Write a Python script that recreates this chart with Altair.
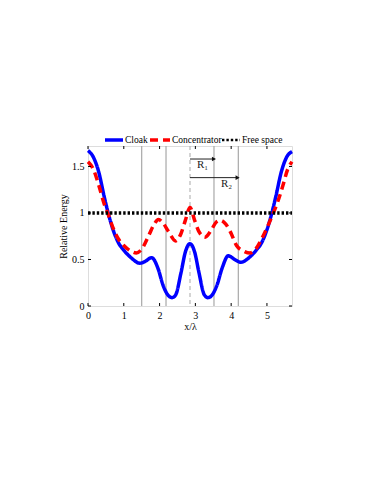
import altair as alt
import pandas as pd

# Cloak curve
cloak_x = [0, 0.15, 0.3, 0.45, 0.55, 0.7, 0.85, 1.0, 1.2, 1.45, 1.6, 1.78, 1.95, 2.1, 2.25, 2.35, 2.45, 2.6, 2.72, 2.85,
           2.98, 3.1, 3.25, 3.35, 3.45, 3.6, 3.75, 3.92, 4.1, 4.27, 4.5, 4.7, 4.85, 5.0, 5.15, 5.25, 5.4, 5.55, 5.7]
cloak_y = [1.67, 1.6, 1.44, 1.18, 1.02, 0.82, 0.68, 0.60, 0.52, 0.46, 0.48, 0.52, 0.41, 0.22, 0.11, 0.09, 0.12, 0.36, 0.58, 0.67,
           0.58, 0.36, 0.12, 0.09, 0.11, 0.22, 0.41, 0.54, 0.50, 0.47, 0.52, 0.60, 0.68, 0.82, 1.02, 1.18, 1.44, 1.6, 1.66]

# Concentrator curve
conc_x = [0, 0.15, 0.3, 0.45, 0.55, 0.7, 0.85, 1.0, 1.2, 1.35, 1.5, 1.7, 1.85, 1.97, 2.1, 2.25, 2.45, 2.6, 2.72, 2.85,
          2.98, 3.1, 3.27, 3.45, 3.58, 3.7, 3.85, 4.0, 4.15, 4.35, 4.53, 4.7, 4.85, 5.0, 5.18, 5.3, 5.45, 5.58, 5.7]
conc_y = [1.55, 1.47, 1.3, 1.1, 1.0, 0.84, 0.72, 0.65, 0.59, 0.57, 0.61, 0.76, 0.88, 0.93, 0.89, 0.80, 0.70, 0.78, 0.92, 1.06,
          0.92, 0.80, 0.74, 0.82, 0.90, 0.92, 0.88, 0.78, 0.65, 0.59, 0.57, 0.62, 0.72, 0.84, 1.0, 1.12, 1.3, 1.47, 1.55]

# Free space
free_x = [0, 5.7]
free_y = [1, 1]

series_names = ["Cloak", "Concentrator", "Free space"]
series_colors = ["#0000ff", "#ff0000", "#000000"]
series_widths = [3.5, 3.5, 2.4]
series_dashes = [[1, 0], [8, 5], [2.4, 2]]

solid_lines = [1.5, 2.18, 3.52, 4.2]
dashed_lines = [2.85]

x_ticks = [0, 1, 2, 3, 4, 5]
y_ticks = [0, 0.5, 1, 1.5]

arrows = pd.DataFrame({"x0": [2.85, 2.85], "x1": [3.52, 4.18], "y": [1.58, 1.38],
                       "label": ["R\u2081", "R\u2082"], "lx": [3.2, 3.87], "ly": [1.52, 1.31]})

rows = []
for name, xs_, ys_ in [("Cloak", cloak_x, cloak_y), ("Concentrator", conc_x, conc_y), ("Free space", free_x, free_y)]:
    for i, (a, b) in enumerate(zip(xs_, ys_)):
        rows.append({"series": name, "x": a, "y": b, "order": i})
df = pd.DataFrame(rows)

FONT = "Liberation Serif"
FS = 10
xs = alt.Scale(domain=[0, 5.7], nice=False, zero=False)
ys = alt.Scale(domain=[0, 1.72], nice=False, zero=False)

W, H = 204, 160

base_x = alt.X("x:Q", scale=xs,
               axis=alt.Axis(values=x_ticks, title="x/\u03bb", grid=False, tickSize=0, domain=False,
                             labelPadding=4, titlePadding=1, labelFont=FONT, titleFont=FONT, format="~g",
                             labelFontSize=FS, titleFontSize=FS, titleFontWeight="normal", labelColor="black",
                             titleColor="black", labelFlush=False))
base_y = alt.Y("y:Q", scale=ys,
               axis=alt.Axis(values=y_ticks, title="Relative Energy", grid=False, tickSize=0, domain=False,
                             labelPadding=4, titlePadding=3, labelFont=FONT, titleFont=FONT, format="~g",
                             labelFontSize=FS, titleFontSize=FS, titleFontWeight="normal", labelColor="black",
                             titleColor="black", labelFlush=False))

vsolid = alt.Chart(pd.DataFrame({"x": solid_lines})).mark_rule(color="#a8a8a8", strokeWidth=1.2).encode(
    x=alt.X("x:Q", scale=xs))
vdash = alt.Chart(pd.DataFrame({"x": dashed_lines})).mark_rule(color="#b8b8b8", strokeWidth=1.2,
                                                                strokeDash=[4, 3]).encode(x=alt.X("x:Q", scale=xs))

curves = alt.Chart(df).mark_line(interpolate="monotone").encode(
    x=base_x, y=base_y, order="order:Q",
    color=alt.Color("series:N", scale=alt.Scale(domain=series_names, range=series_colors), legend=None),
    strokeDash=alt.StrokeDash("series:N", scale=alt.Scale(domain=series_names, range=series_dashes), legend=None),
    strokeWidth=alt.StrokeWidth("series:N", scale=alt.Scale(domain=series_names, range=series_widths),
                                legend=None),
)

arrow_lines = alt.Chart(arrows).mark_rule(color="#222222", strokeWidth=1).encode(
    x=alt.X("x0:Q", scale=xs), x2="x1:Q", y=alt.Y("y:Q", scale=ys))
arrow_heads = alt.Chart(arrows).mark_point(shape="triangle-right", filled=True, size=22, color="#111111",
                                           opacity=1).encode(
    x=alt.X("x1:Q", scale=xs), y=alt.Y("y:Q", scale=ys))
arrow_text = alt.Chart(arrows).mark_text(font=FONT, fontSize=11, color="#222222").encode(
    x=alt.X("lx:Q", scale=xs), y=alt.Y("ly:Q", scale=ys), text="label:N")

# inward ticks
xt = pd.DataFrame({"x": x_ticks})
yt = pd.DataFrame({"y": y_ticks})
xt_bot = alt.Chart(xt).mark_rule(color="black").encode(x=alt.X("x:Q", scale=xs), y=alt.value(H), y2=alt.value(H - 3))
xt_top = alt.Chart(xt).mark_rule(color="black").encode(x=alt.X("x:Q", scale=xs), y=alt.value(0), y2=alt.value(3))
yt_l = alt.Chart(yt).mark_rule(color="black").encode(y=alt.Y("y:Q", scale=ys), x=alt.value(0), x2=alt.value(3))
yt_r = alt.Chart(yt).mark_rule(color="black").encode(y=alt.Y("y:Q", scale=ys), x=alt.value(W), x2=alt.value(W - 3))

# legend (drawn above the plot area)
leg_layers = []
leg_sym_start = [17, 62, 134]
leg_sym_len = [18, 20, 18]
LEG_Y = -6
for i, name in enumerate(series_names):
    one = pd.DataFrame({"series": [name]})
    leg_layers.append(alt.Chart(one).mark_rule(color=series_colors[i], strokeWidth=series_widths[i],
                                               strokeDash=series_dashes[i]).encode(
        x=alt.value(leg_sym_start[i]), x2=alt.value(leg_sym_start[i] + leg_sym_len[i]), y=alt.value(LEG_Y)))
    leg_layers.append(alt.Chart(one).mark_text(font=FONT, fontSize=9.5, color="black", align="left",
                                               baseline="middle").encode(
        x=alt.value(leg_sym_start[i] + leg_sym_len[i] + 2), y=alt.value(LEG_Y), text="series:N"))

chart = alt.layer(vsolid, vdash, curves, arrow_lines, arrow_heads, arrow_text, xt_bot, xt_top, yt_l, yt_r,
                  *leg_layers).properties(
    width=W, height=H,
    autosize=alt.AutoSizeParams(type="none"),
    padding={"left": 80, "top": 138, "right": 70, "bottom": 60},
).configure_view(stroke="black", strokeWidth=1.2).configure(background="white")

chart.save("out.html", embed_options={"renderer": "svg", "actions": False})
